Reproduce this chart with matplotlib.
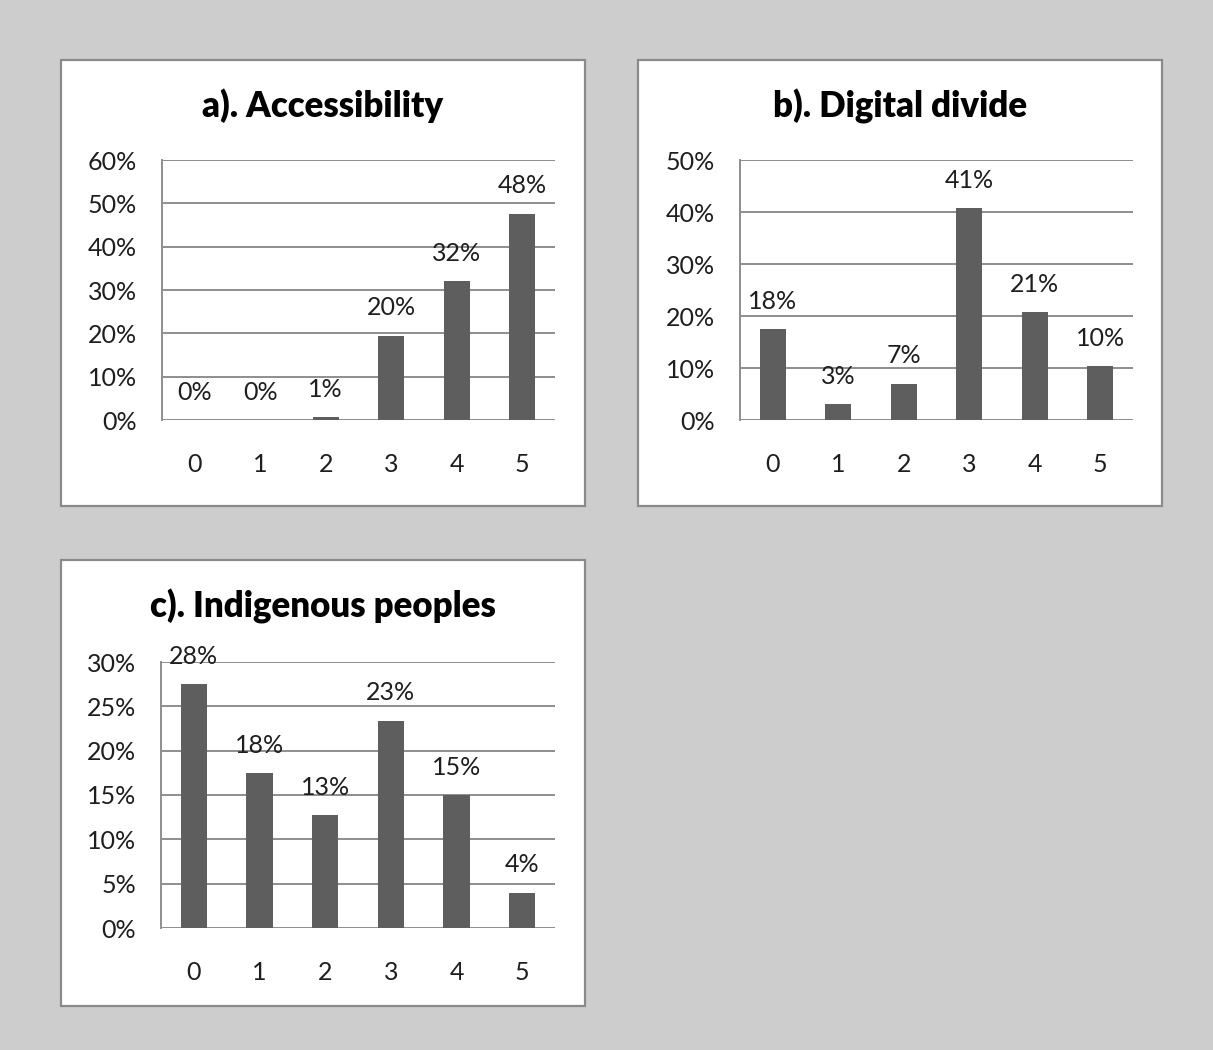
import matplotlib
matplotlib.use("Agg")
import matplotlib.pyplot as plt
from matplotlib.patches import Rectangle
from matplotlib.ticker import PercentFormatter

plt.rcParams['font.family'] = ['Lato', 'DejaVu Sans']

# puntuaciones 0..5 y porcentaje de respuestas en cada panel
categorias = ["0", "1", "2", "3", "4", "5"]
accesibilidad = [0.0, 0.0, 0.006, 0.195, 0.32, 0.476]
brecha_digital = [0.175, 0.03, 0.07, 0.408, 0.207, 0.103]
pueblos_indigenas = [0.275, 0.175, 0.127, 0.234, 0.15, 0.04]

titulos = ["a). Accessibility", "b). Digital divide", "c). Indigenous peoples"]
ymax = [0.6, 0.5, 0.3]
ypaso = [0.1, 0.1, 0.05]

W, H = 1213, 1050
FONDO = "#cdcdcd"
BARRA = "#5e5e5e"
REJILLA = "#8e8e8e"
TEXTO = "#1e1e1e"

fig = plt.figure(figsize=(W / 100, H / 100), dpi=100, facecolor=FONDO)

def px(x0, y0, x1, y1):
    # caja en pixeles (arriba-izquierda) -> coordenadas de figura
    return [x0 / W, 1 - y1 / H, (x1 - x0) / W, (y1 - y0) / H]

# marcos blancos de cada grafico y zona de trazado
marcos = [(61, 60, 585, 506), (638, 60, 1162, 506), (61, 560, 585, 1006)]
areas = [(162, 160, 555, 420), (740, 160, 1133, 420), (161, 662, 555, 928)]
datos = [accesibilidad, brecha_digital, pueblos_indigenas]

for i in range(3):
    x0, y0, x1, y1 = marcos[i]
    fig.add_artist(Rectangle((x0 / W, 1 - y1 / H), (x1 - x0) / W, (y1 - y0) / H,
                             transform=fig.transFigure, facecolor="white",
                             edgecolor="#8a8a8a", linewidth=1.6, zorder=0))

    ax = fig.add_axes(px(*areas[i]))
    ax.set_facecolor("none")
    valores = datos[i]
    pos = range(len(categorias))
    ax.bar(pos, valores, width=0.4, color=BARRA, zorder=3)

    for p, v in zip(pos, valores):
        ax.annotate(f"{v:.0%}", (p, v), xytext=(0, 20), textcoords="offset points",
                    ha="center", va="center", fontsize=18, color=TEXTO, zorder=4)

    ax.set_xlim(-0.5, len(categorias) - 0.5)
    ax.set_ylim(0, ymax[i])
    n = int(round(ymax[i] / ypaso[i]))
    ax.set_yticks([k * ypaso[i] for k in range(n + 1)])
    ax.yaxis.set_major_formatter(PercentFormatter(1.0, decimals=0))
    ax.set_xticks(list(pos))
    ax.set_xticklabels(categorias)
    ax.tick_params(axis="both", length=0, labelsize=18, colors=TEXTO)
    ax.tick_params(axis="y", pad=18)
    ax.tick_params(axis="x", pad=24)

    ax.yaxis.grid(True, color=REJILLA, linewidth=1.4, zorder=1)
    ax.set_axisbelow(True)
    for lado in ["top", "right", "bottom"]:
        ax.spines[lado].set_visible(False)
    ax.spines["left"].set_color(REJILLA)
    ax.spines["left"].set_linewidth(1.4)

    # titulo centrado en el marco
    cx = (x0 + x1) / 2 / W
    fig.text(cx, 1 - (y0 + 46) / H, titulos[i], ha="center", va="center",
             fontsize=25, fontweight="heavy", color="black")

fig.savefig("out.png", dpi=100, facecolor=FONDO)
